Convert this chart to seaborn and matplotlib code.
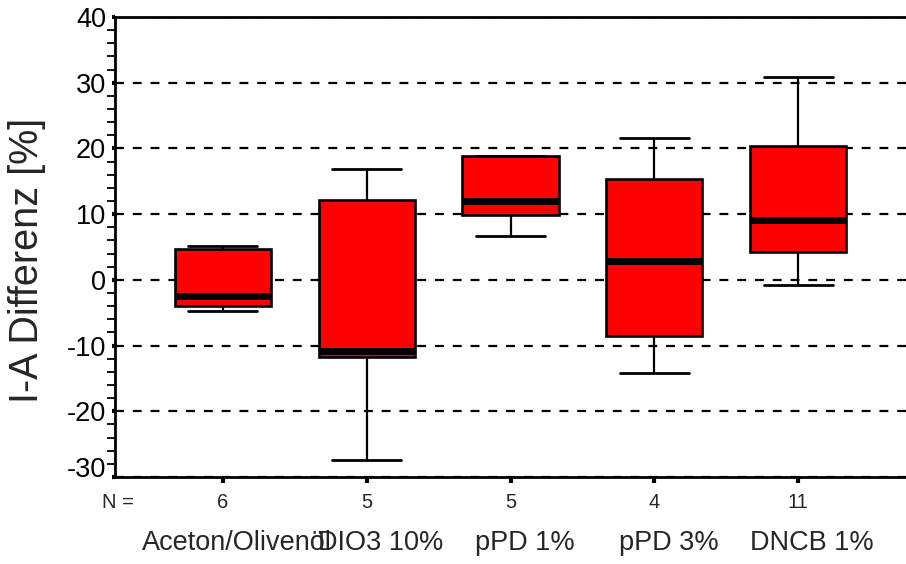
import numpy as np
import pandas as pd
import matplotlib
matplotlib.use("Agg")
import matplotlib.pyplot as plt
import matplotlib.transforms as mtransforms
from matplotlib.ticker import MultipleLocator
import seaborn as sns

# ---- data ----
categories = ["Aceton/Olivenöl", "DIO3 10%", "pPD 1%", "pPD 3%", "DNCB 1%"]
counts = [6, 5, 5, 4, 11]
whisker_low = [-4.7, -27.4, 6.6, -14.2, -0.8]
q1_values = [-4.0, -11.8, 9.9, -8.6, 4.3]
medians = [-2.5, -10.8, 12.0, 2.9, 9.1]
q3_values = [4.7, 12.2, 18.8, 15.3, 20.4]
whisker_high = [5.1, 16.8, 18.9, 21.6, 30.9]
y_ticks = [-30, -20, -10, 0, 10, 20, 30, 40]

rows = []
for cat, a, b, c, d, e in zip(categories, whisker_low, q1_values, medians, q3_values, whisker_high):
    for v in (a, b, c, d, e):
        rows.append({"group": cat, "value": v})
df = pd.DataFrame(rows)

sns.set_style("ticks")
plt.rcParams["font.family"] = ["Liberation Sans", "DejaVu Sans"]
plt.rcParams["axes.unicode_minus"] = False

fig = plt.figure(figsize=(9.06, 5.64), dpi=100)
ax = fig.add_axes([115 / 906, 1 - 477 / 564, (906 - 115) / 906, (477 - 17) / 564])

sns.boxplot(
    data=df, x="group", y="value", order=categories, ax=ax,
    color="#ff0000", saturation=1, width=0.67, whis=(0, 100),
    linecolor="black", linewidth=1.9,
    medianprops={"color": "black", "linewidth": 5.0},
    whiskerprops={"color": "black", "linewidth": 1.6},
    capprops={"color": "black", "linewidth": 2.0},
    capwidths=0.48,
)

ax.set_xlim(-0.75, 4.75)
ax.set_ylim(-30, 40)
ax.set_yticks(y_ticks)
ax.yaxis.set_minor_locator(MultipleLocator(2))
ax.tick_params(axis="y", which="major", labelsize=19.5, length=2.5, width=3, pad=4, colors="black")
ax.tick_params(axis="y", which="minor", length=6, width=1.3, colors="black")
ax.set_xticks(range(len(categories)))
ax.set_xticklabels([""] * len(categories))
ax.tick_params(axis="x", which="major", length=4, width=3, colors="black")
ax.set_xlabel("")
ax.set_ylabel("")

ax.yaxis.grid(True, linestyle=(0, (4, 4)), color="black", linewidth=1.6)
ax.set_axisbelow(True)

for side in ["top", "bottom", "left"]:
    ax.spines[side].set_visible(True)
    ax.spines[side].set_color("black")
    ax.spines[side].set_linewidth(2.0)
ax.spines["right"].set_visible(False)

# lowest tick label sits a bit higher
ax.yaxis.get_major_ticks()[0].label1.set_verticalalignment("baseline")

fig.text(27.5 / 906, 1 - 260 / 564, "I-A Differenz [%]", rotation=90,
         ha="center", va="center", fontsize=28.5)

trans_n = mtransforms.blended_transform_factory(ax.transData, fig.transFigure)
fig.text(102 / 906, 1 - 503 / 564, "N =", ha="left", va="center", fontsize=14.5)
for i, n in enumerate(counts):
    ax.text(i, 1 - 503 / 564, str(n), transform=trans_n, ha="center", va="center", fontsize=14.5)

offset = mtransforms.ScaledTranslation(0.14, 0, fig.dpi_scale_trans)
for i, cat in enumerate(categories):
    ax.text(i, 1 - 543 / 564, cat, transform=trans_n + offset, ha="center", va="center", fontsize=19.5)

fig.savefig("out.png", dpi=100)
